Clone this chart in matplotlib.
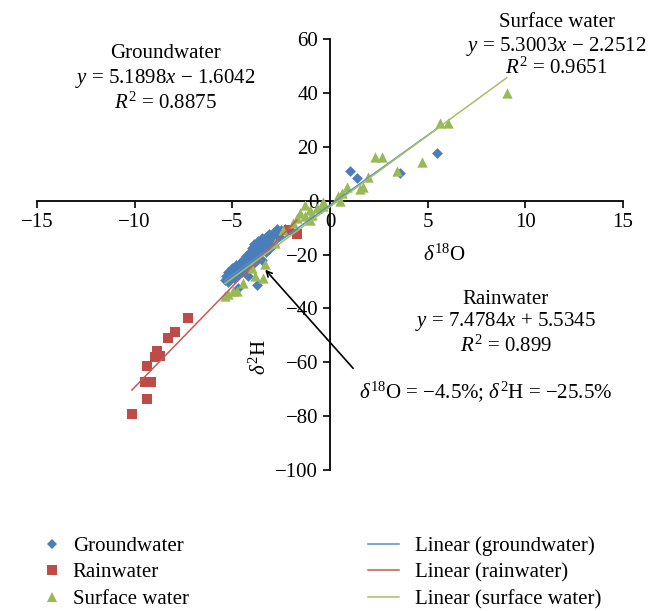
import numpy as np
import matplotlib
matplotlib.use("Agg")
import matplotlib.pyplot as plt
from matplotlib.lines import Line2D

plt.rcParams["font.family"] = ["Liberation Serif", "DejaVu Serif"]
plt.rcParams["mathtext.fontset"] = "custom"
plt.rcParams["mathtext.rm"] = "Liberation Serif"
plt.rcParams["mathtext.it"] = "Liberation Serif:italic"

# groundwater samples (d18O, d2H)
gw_x = [-5.4, -5.3, -5.2, -5.0, -5.1, -4.9, -4.8, -4.7, -4.6, -4.5, -4.4, -4.5,
        -4.3, -4.2, -4.1, -4.0, -4.0, -3.9, -3.8, -3.8, -3.7, -3.6, -3.6, -3.5,
        -3.5, -3.4, -3.4, -3.3, -3.2, -3.2, -3.1, -3.0, -3.0, -2.9, -2.8, -2.7,
        -2.6, -2.5, -3.75, -4.7, -4.2, -2.3,
        -4.6, -4.3, -4.0, -3.9, -3.7, -3.5, -3.3, -3.1, -2.9, -2.7, -5.0, -5.2,
        -4.8, -4.4, -4.1, -3.85, -3.45, -3.25, -2.95,
        1.02, 1.36, 3.58, 5.46]
gw_y = [-29.5, -28.0, -30.0, -27.0, -29.0, -28.5, -26.0, -27.5, -25.0, -26.5, -24.0, -22.5,
        -25.5, -22.0, -24.0, -21.0, -19.5, -23.0, -20.0, -18.0, -21.5, -19.0, -16.5, -18.0,
        -22.0, -17.0, -15.5, -19.0, -16.0, -14.5, -18.0, -15.0, -13.5, -16.5, -14.0, -12.5,
        -13.0, -11.0, -31.4, -32.5, -28.0, -10.5,
        -23.0, -20.5, -17.5, -16.0, -15.0, -14.0, -13.5, -12.5, -12.0, -10.5, -25.0, -26.5,
        -24.0, -21.5, -19.0, -17.0, -15.5, -17.5, -14.5,
        11.1, 8.4, 10.4, 17.6]

# rainwater samples
rain_x = [-7.25, -7.93, -8.27, -8.86, -8.70, -8.95, -9.38, -9.46, -9.17, -9.38, -10.14,
          -1.7, -2.1]
rain_y = [-43.7, -48.8, -51.0, -55.9, -57.5, -58.0, -61.4, -67.5, -67.5, -73.7, -79.3,
          -12.5, -11.0]

# surface water samples
sw_x = [9.05, 5.63, 6.05, 2.30, 2.64, 4.69, 3.41, 1.96, 1.53, 1.67, 0.85, 0.6, 0.43,
        0.5, -0.34, -0.34, -0.68, -1.02, -0.94, -1.53, -1.28, -1.7, -1.02, -1.88,
        -2.39, -2.8, -3.32, -3.41, -3.84, -4.43, -4.77, -4.95, -5.37, -5.2, -4.0, -1.28]
sw_y = [39.9, 28.9, 28.9, 16.1, 16.1, 14.5, 11.2, 9.0, 4.3, 5.0, 5.0, 2.8, 1.6,
        -0.2, -0.3, -2.1, -2.7, -3.3, -5.2, -4.5, -5.8, -6.4, -7.0, -8.2,
        -10.7, -15.5, -23.6, -28.5, -27.9, -30.4, -33.5, -33.5, -35.3, -34.8, -25.0, -1.5]

# linear fits: groundwater, rainwater, surface water
fit_names = ["Groundwater", "Rainwater", "Surface water"]
slopes = [5.1898, 7.4784, 5.3003]
intercepts = [-1.6042, 5.5345, -2.2512]
r2 = ["0.8875", "0.899", "0.9651"]

blue = "#4A7EBB"
red = "#BE4B48"
green = "#98B954"

fig = plt.figure(figsize=(6.59, 6.11), dpi=100)
ax = fig.add_axes([0.0561, 0.2308, 0.8893, 0.7049])

ax.scatter(gw_x, gw_y, marker="D", s=30, color=blue, linewidths=0, zorder=3)
ax.scatter(rain_x, rain_y, marker="s", s=50, color=red, linewidths=0, zorder=3)
ax.scatter(sw_x, sw_y, marker="^", s=55, color=green, linewidths=0, zorder=3)

line_colors = ["#5B8BC0", "#C45A57", "#A3C164"]
for xs, m, b, c in zip([gw_x, rain_x, sw_x], slopes, intercepts, line_colors):
    xx = np.array([min(xs), max(xs)])
    ax.plot(xx, m * xx + b, color=c, lw=1.1, zorder=4)

ax.set_xlim(-15, 15)
ax.set_ylim(-100, 60)
ax.set_xticks(np.arange(-15, 16, 5))
ax.set_yticks(np.arange(-100, 61, 20))
ax.spines["left"].set_position("zero")
ax.spines["bottom"].set_position("zero")
ax.spines["top"].set_visible(False)
ax.spines["right"].set_visible(False)
for s in ["left", "bottom"]:
    ax.spines[s].set_linewidth(1.3)
ax.tick_params(direction="out", length=5, width=1.2, labelsize=15)
ax.patch.set_visible(False)

fs = 15
ax.text(5.83, -20.3, r"$\delta^{18}$O", fontsize=fs, ha="center", va="center")
ax.text(-3.58, -58, r"$\delta^{2}$H", fontsize=fs, ha="center", va="center", rotation=90)

# equation labels
blocks = [(-8.44, [54.6, 45.4, 36.2]), (9.0, [-36.5, -45.0, -54.2]), (11.6, [66.4, 57.2, 49.1])]
for name, m, b, r, (bx, ys) in zip(fit_names, slopes, intercepts, r2, blocks):
    sign = "+" if b >= 0 else "\u2212"
    ax.text(bx, ys[0], name, fontsize=fs, ha="center", va="center", clip_on=False)
    ax.text(bx, ys[1], f"$y$ = {m:.4f}$x$ {sign} {abs(b):.4f}", fontsize=fs,
            ha="center", va="center", clip_on=False)
    ax.text(bx, ys[2], f"$R^2$ = {r}", fontsize=fs, ha="center", va="center", clip_on=False)

ax.annotate("", xy=(-3.41, -24.8), xytext=(1.28, -63),
            arrowprops=dict(arrowstyle="->", color="black", lw=1.2), zorder=5)
ax.text(7.98, -70.8, "$\\delta^{18}$O = \u22124.5%; $\\delta^{2}$H = \u221225.5%",
        fontsize=fs, ha="center", va="center")

# legends below the plot
pt_handles = [
    Line2D([], [], ls="none", marker="D", ms=5, color=blue, mew=0),
    Line2D([], [], ls="none", marker="s", ms=7.5, color=red, mew=0),
    Line2D([], [], ls="none", marker="^", ms=7.5, color=green, mew=0),
]
fig.legend(pt_handles, ["Groundwater", "Rainwater", "Surface water"],
           loc="upper left", bbox_to_anchor=(0.063, 0.122), frameon=False,
           fontsize=fs, handlelength=1.0, handletextpad=0.5, labelspacing=0.33,
           borderpad=0, borderaxespad=0)
ln_handles = [Line2D([], [], color=c, lw=1.1) for c in line_colors]
fig.legend(ln_handles, ["Linear (groundwater)", "Linear (rainwater)", "Linear (surface water)"],
           loc="upper left", bbox_to_anchor=(0.558, 0.122), frameon=False,
           fontsize=fs, handlelength=1.5, handletextpad=0.75, labelspacing=0.33,
           borderpad=0, borderaxespad=0)

fig.savefig("out.png", dpi=100)
